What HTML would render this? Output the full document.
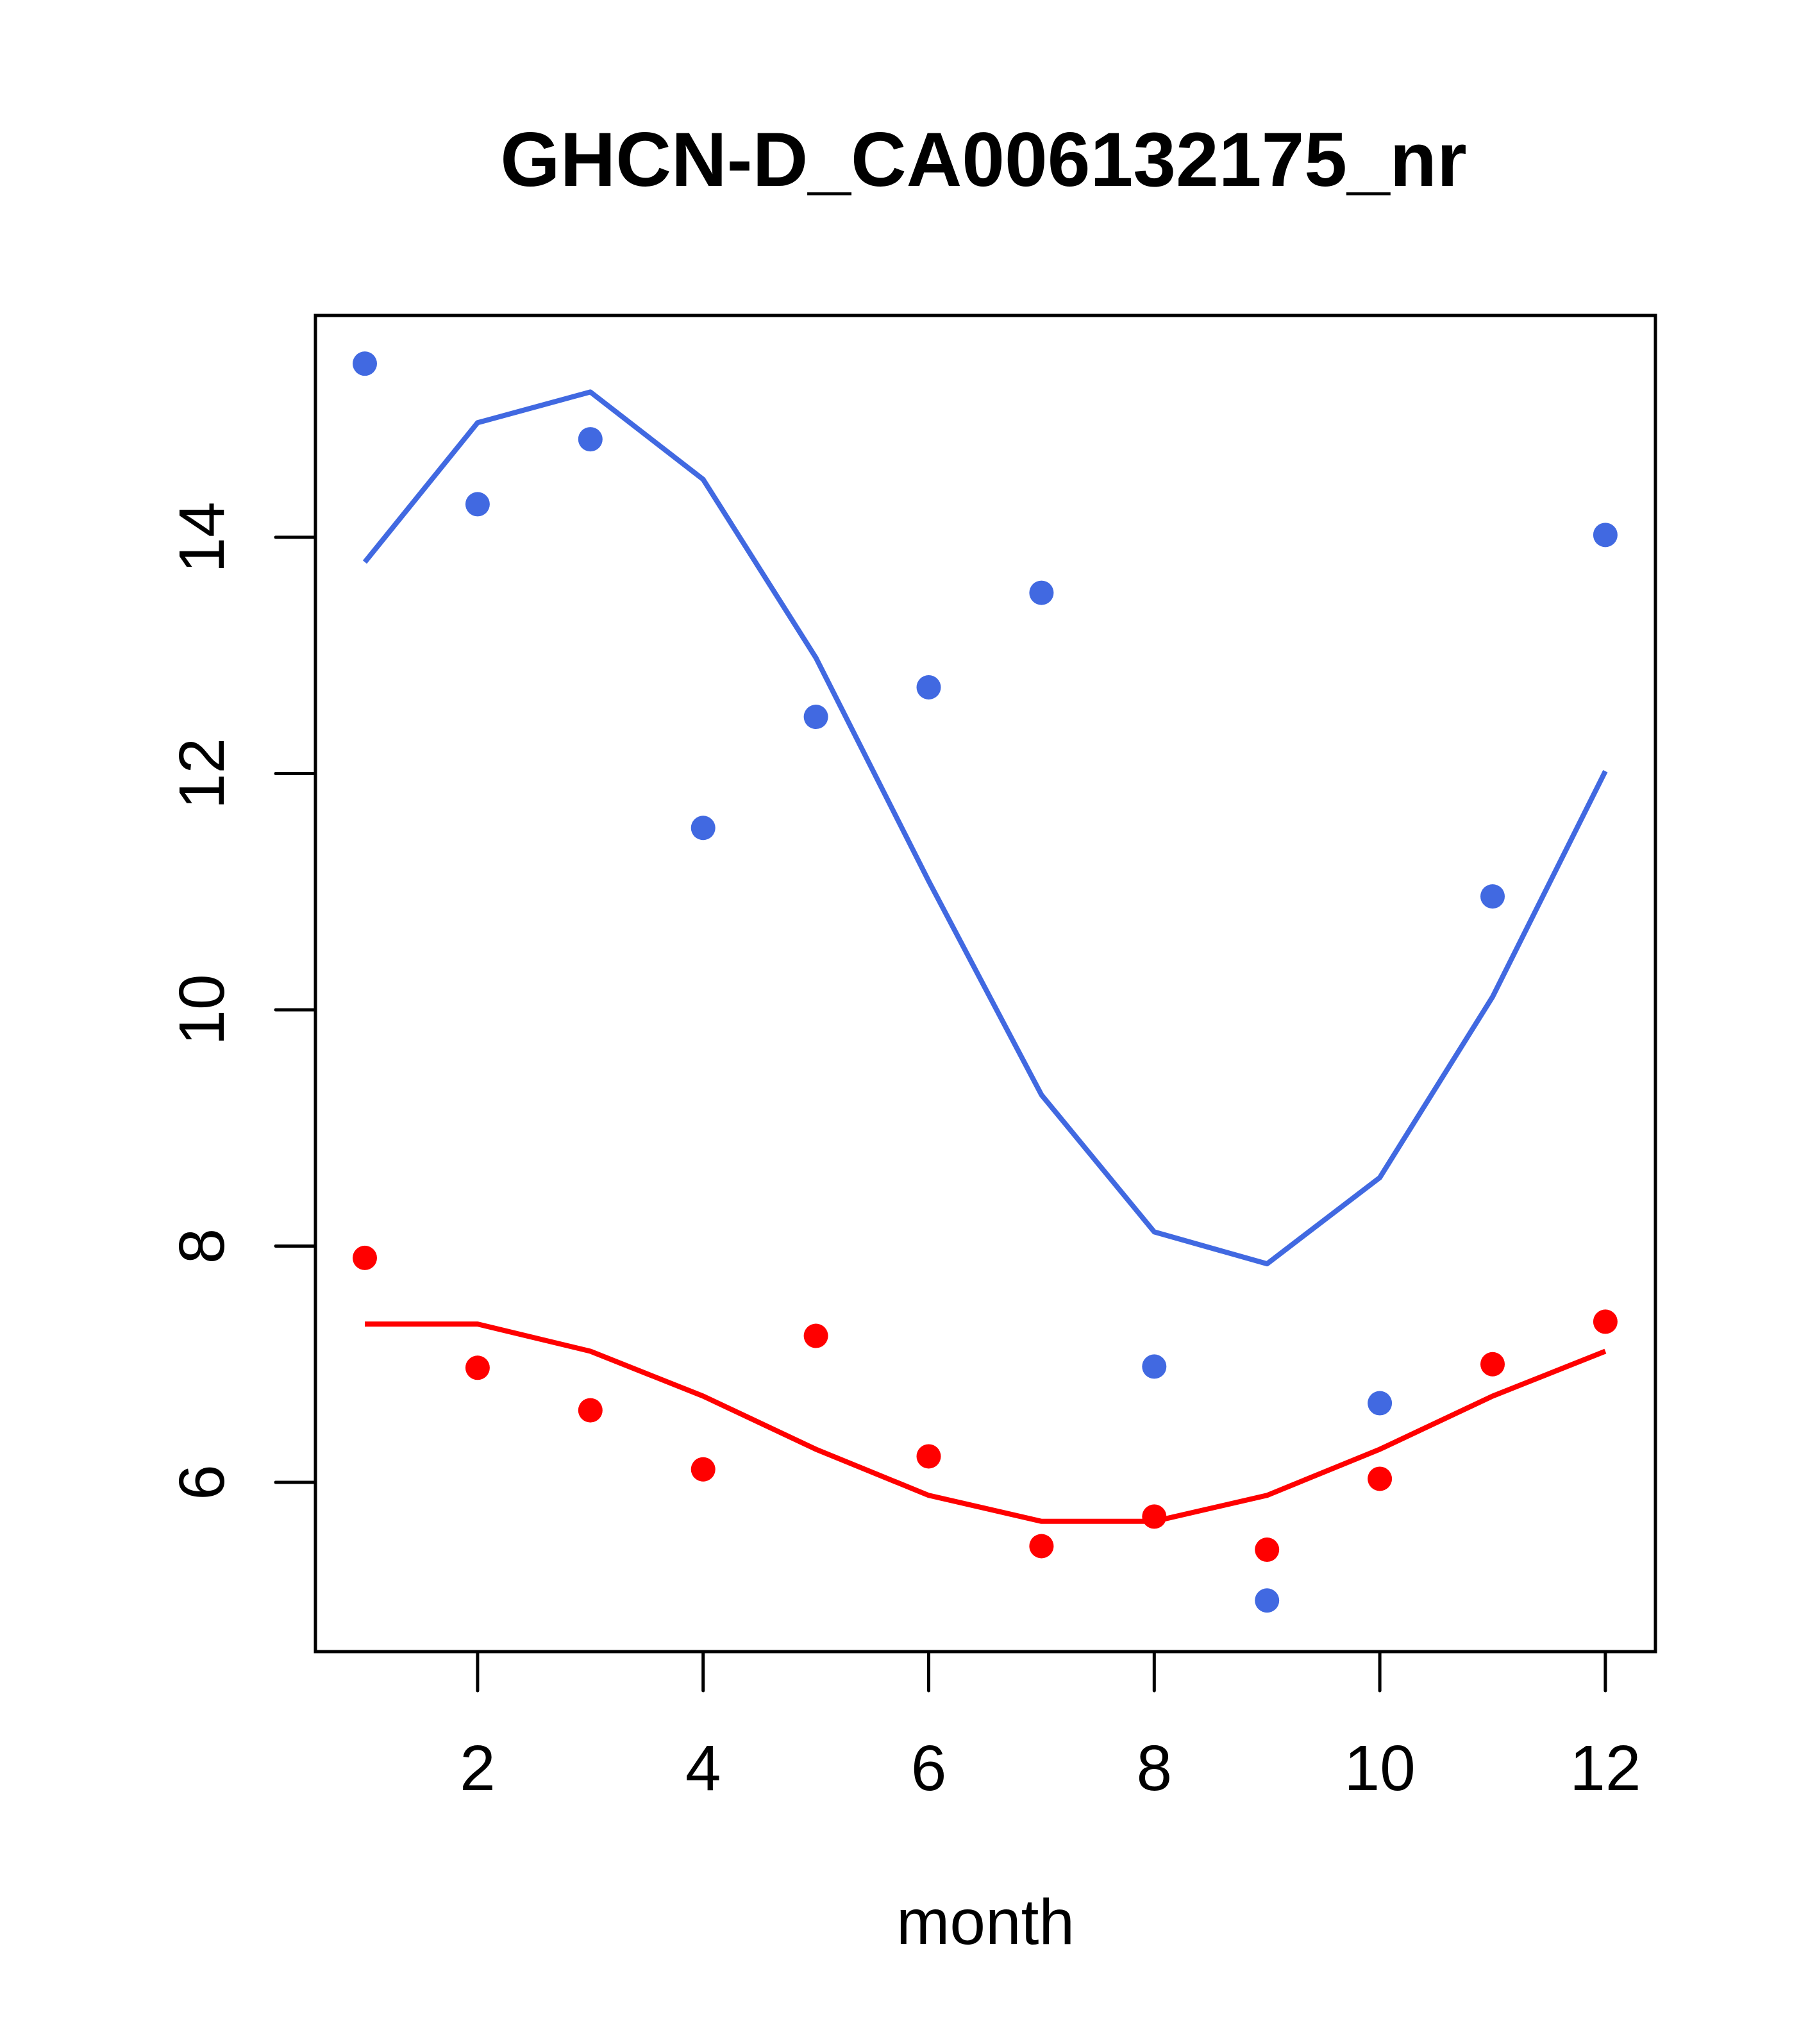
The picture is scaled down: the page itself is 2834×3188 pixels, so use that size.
<!DOCTYPE html>
<html><head><meta charset="utf-8"><style>
html,body{margin:0;padding:0;background:#fff}
svg{display:block}
text{font-family:"Liberation Sans",Arial,sans-serif}
</style></head><body>
<svg id="chart" width="2834" height="3188" viewBox="0 0 2834 3188" xmlns="http://www.w3.org/2000/svg">
<rect width="2834" height="3188" fill="#fff"/>
<text x="1534" y="290" text-anchor="middle" font-size="120" font-weight="bold">GHCN-D_CA006132175_nr</text>
<text x="1537" y="3032" text-anchor="middle" font-size="100">month</text>
<g id="marks"></g>
<rect x="492" y="492" width="2090" height="2084" fill="none" stroke="#000" stroke-width="5"/>
</svg>
<script>
const months = [1,2,3,4,5,6,7,8,9,10,11,12];
const bluePoints = [15.47,14.28,14.83,11.54,12.48,12.73,13.53,6.98,5.00,6.67,10.96,14.02];
const blueLine = [13.79,14.97,15.23,14.49,12.98,11.09,9.28,8.12,7.85,8.58,10.11,12.02];
const redPoints = [7.90,6.97,6.61,6.11,7.24,6.22,5.46,5.71,5.43,6.03,7.00,7.36];
const redLine = [7.34,7.34,7.11,6.73,6.28,5.89,5.67,5.67,5.89,6.28,6.73,7.11];
const xTicks = [2,4,6,8,10,12];
const yTicks = [6,8,10,12,14];

const NS = "http://www.w3.org/2000/svg";
function xs(m){ return 569 + (m-1)*175.9; }
function ys(v){ return 2312 - (v-6)*184.25; }
const g = document.getElementById('marks');
function mk(tag, attrs){ const e=document.createElementNS(NS,tag); for(const k in attrs) e.setAttribute(k,attrs[k]); g.appendChild(e); return e; }

xTicks.forEach(t=>{
  const l = mk('line',{x1:xs(t),x2:xs(t),y1:2576,y2:2637,stroke:'#000','stroke-width':5,'stroke-linecap':'round'});
  
  
  const tx = mk('text',{x:xs(t),y:2792,'text-anchor':'middle','font-size':100});
  tx.textContent = t;
  
  
});
yTicks.forEach(t=>{
  const l = mk('line',{x1:430,x2:492,y1:ys(t),y2:ys(t),stroke:'#000','stroke-width':5,'stroke-linecap':'round'});
  
  
  const tx = mk('text',{x:0,y:0,'text-anchor':'middle','font-size':100,transform:`translate(349,${ys(t)}) rotate(-90)`});
  tx.textContent = t;
  
  
});
function drawLine(vals,color,name){
  const p = mk('polyline',{points:vals.map((v,i)=>xs(months[i])+','+ys(v)).join(' '),fill:'none',stroke:color,'stroke-width':8,'stroke-linejoin':'round'});
  
  
}
function drawPoints(vals,color,name){
  vals.forEach((v,i)=>{
    const c = mk('circle',{cx:xs(months[i]),cy:ys(v),r:19,fill:color});
    
    
  });
}
drawLine(blueLine,'#4169E1','blue-fit-line');
drawLine(redLine,'#FF0000','red-fit-line');
drawPoints(bluePoints,'#4169E1','blue-point');
drawPoints(redPoints,'#FF0000','red-point');
</script>
</body></html>
